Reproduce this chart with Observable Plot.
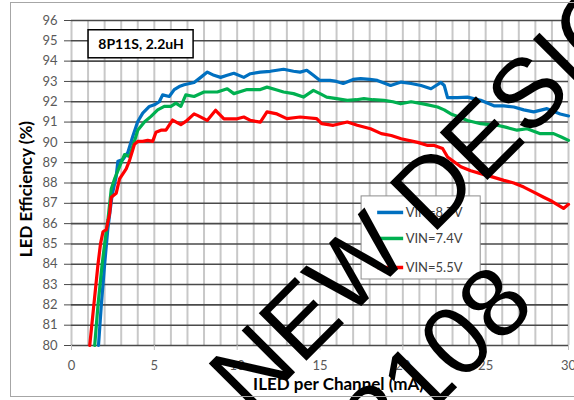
<!DOCTYPE html>
<html><head><meta charset="utf-8">
<script src="https://cdn.jsdelivr.net/npm/d3@7"></script>
<script src="https://cdn.jsdelivr.net/npm/@observablehq/plot@0.6"></script>
<style>
html,body{margin:0;padding:0;background:#fff;}
#wrap{position:relative;width:574px;height:400px;overflow:hidden;}
#wrap svg{position:absolute;left:0;top:0;}
#border{position:absolute;left:10px;top:2px;width:600px;height:395px;border:1px solid #a6a6a6;box-sizing:border-box;pointer-events:none}
</style></head><body><div id="wrap"><div id="border"></div></div>
<script>
// ---- data ----
const xTicks = [0, 5, 10, 15, 20, 25, 30];
const xGrid = d3.range(0, 31, 1);
const yTicks = d3.range(80, 97, 1);

const vin87 = [[1.63,80],[1.8,82],[2.0,84],[2.2,85.8],[2.45,87.4],[2.7,88.33],[2.8,89.07],[3.1,89.15],[3.4,89.5],[3.7,90.3],[4.0,91.03],[4.3,91.44],[4.7,91.77],[5.0,91.85],[5.3,92.0],[5.5,92.34],[5.9,92.26],[6.2,92.6],[6.5,92.75],[6.8,92.84],[7.4,92.95],[7.8,93.2],[8.2,93.46],[8.6,93.3],[9.0,93.2],[9.4,93.3],[9.8,93.4],[10.4,93.2],[10.8,93.38],[11.4,93.46],[12.0,93.5],[12.8,93.6],[13.4,93.5],[13.8,93.46],[14.2,93.55],[14.6,93.3],[15.0,93.05],[15.6,93.05],[16.0,93.0],[16.4,92.9],[17.0,93.1],[17.45,93.14],[18.0,93.1],[18.46,93.05],[19.26,92.8],[19.9,92.97],[20.5,92.9],[21.1,92.8],[21.7,92.64],[22.3,92.95],[22.5,92.8],[22.7,92.2],[23.3,92.2],[23.9,92.23],[24.7,92.07],[25.5,91.8],[26.1,91.8],[26.7,91.74],[27.3,91.6],[27.9,91.5],[28.7,91.66],[29.5,91.4],[30,91.3]];
const vin74 = [[1.4,80],[1.6,82],[1.85,84],[2.0,85],[2.2,86.2],[2.4,87.7],[2.6,88.2],[3.0,89.0],[3.2,89.4],[3.5,89.3],[3.8,90.05],[4.0,90.6],[4.4,91.0],[4.8,91.28],[5.2,91.6],[5.6,91.77],[6.0,91.77],[6.3,91.93],[6.6,91.77],[6.9,92.34],[7.4,92.26],[8.0,92.48],[8.8,92.48],[9.4,92.64],[9.8,92.4],[10.6,92.6],[11.4,92.6],[11.8,92.72],[12.3,92.6],[12.8,92.48],[13.4,92.4],[14.0,92.23],[14.6,92.56],[15.0,92.4],[15.4,92.23],[16.0,92.15],[16.65,92.07],[17.2,92.1],[17.65,92.15],[18.2,92.1],[18.86,92.07],[19.4,92.0],[19.87,91.9],[20.5,92.0],[21.3,91.88],[22.1,91.74],[22.5,91.6],[22.9,91.4],[23.4,91.25],[23.9,91.08],[24.7,90.92],[25.7,90.84],[26.2,90.75],[26.9,90.6],[27.5,90.67],[28.3,90.43],[29.1,90.43],[29.6,90.25],[30,90.1]];
const vin55 = [[1.1,80],[1.35,82],[1.6,84],[1.75,85.0],[1.9,85.6],[2.1,85.7],[2.3,86.5],[2.4,87.3],[2.7,87.5],[2.9,88.2],[3.3,88.7],[3.5,89.1],[3.8,89.9],[4.0,90.05],[4.3,90.05],[4.6,90.1],[4.9,90.05],[5.1,90.5],[5.4,90.6],[5.7,90.6],[6.1,91.1],[6.6,90.87],[6.9,91.03],[7.4,91.4],[7.6,91.33],[8.19,91.08],[8.7,91.58],[9.2,91.16],[10.0,91.16],[10.4,91.25],[10.8,91.08],[11.4,91.0],[11.8,91.5],[12.4,91.4],[13.0,91.17],[13.8,91.25],[14.8,91.17],[15.1,90.92],[15.8,90.84],[16.65,91.0],[17.25,90.84],[18.05,90.67],[18.7,90.43],[19.3,90.34],[19.9,90.18],[20.9,90.0],[21.5,89.85],[21.9,89.85],[22.4,89.7],[22.7,89.28],[23.5,88.8],[24.1,88.6],[24.7,88.46],[25.4,88.3],[26.1,88.13],[26.7,88.0],[27.3,87.8],[27.9,87.55],[28.5,87.3],[29.0,87.1],[29.4,86.9],[29.7,86.75],[30,86.95]];

const seriesNames = ["VIN=8.7V", "VIN=7.4V", "VIN=5.5V"];
const seriesColors = ["#0070C0", "#00B050", "#FF0000"];
const noteText = "8P11S, 2.2uH";
const yTitle = "LED Efficiency (%)";
const xTitle = "ILED per Channel (mA)";
const watermark = ["NEW DESIGN", "2108"];

// ---- legend rows built from the arrays ----
const legendRows = seriesNames.map((name, i) => ({name, color: seriesColors[i], y: [86.55, 85.27, 83.84][i]}));

const chart = Plot.plot({
  width: 574, height: 400,
  marginLeft: 71, marginRight: 6, marginTop: 20, marginBottom: 55,
  style: {background: "transparent", fontFamily: "Lato, sans-serif", fontSize: "13px", color: "#595959", overflow: "visible"},
  x: {domain: [0, 30]},
  y: {domain: [80, 96]},
  marks: [
    Plot.ruleX(xGrid, {stroke: "#c8c8c8", strokeWidth: 2}),
    Plot.ruleY(yTicks, {stroke: "#4a4a4a", strokeWidth: 1.6}),
    Plot.axisY(yTicks, {tickSize: 7, tickPadding: 7, label: null, stroke: "#4a4a4a", fill: "#595959", fontSize: 13}),
    Plot.axisX(xTicks, {tickSize: 5, tickPadding: 10, label: null, stroke: "#bfbfbf", fill: "#595959", fontSize: 13}),
    Plot.line(vin87, {x: d => d[0], y: d => d[1], stroke: seriesColors[0], strokeWidth: 3.2}),
    Plot.line(vin74, {x: d => d[0], y: d => d[1], stroke: seriesColors[1], strokeWidth: 3.2}),
    Plot.line(vin55, {x: d => d[0], y: d => d[1], stroke: seriesColors[2], strokeWidth: 3.2}),
    // annotation box
    Plot.rect([noteText], {x1: 1.03, x2: 7.37, y1: 94.14, y2: 95.52, fill: "white", stroke: "black", strokeWidth: 1.5}),
    Plot.text([noteText], {x: 4.2, y: 94.83, fontWeight: "bold", fontSize: 14, fill: "black"}),
    // legend
    Plot.rect([0], {x1: 17.51, x2: 24.7, y1: 83.25, y2: 87.34, fill: "white", stroke: "#8c8c8c", strokeWidth: 1}),
    Plot.ruleY(legendRows, {y: "y", x1: 18.48, x2: 20.05, stroke: "color", strokeWidth: 3.5}),
    Plot.text(legendRows, {x: 20.17, y: "y", text: "name", textAnchor: "start", fontSize: 13, fill: "#404040"}),
    // axis titles
    Plot.text([yTitle], {x: -2.7, y: 87.7, rotate: -90, fontWeight: "bold", fontSize: 17, fill: "black"}),
    Plot.text([xTitle], {x: 16.12, y: 78.08, fontWeight: "bold", fontSize: 17, fill: "black"}),
    // watermark
    Plot.text([watermark[0]], {x: 9.48, y: 77.59, rotate: -45, textAnchor: "start", fontSize: 98, fontFamily: "Liberation Sans", fill: "black"}),
    Plot.text([watermark[1]], {x: 17.49, y: 75.4, rotate: -45, textAnchor: "start", fontSize: 98, fontFamily: "Liberation Sans", fill: "black"})
  ]
});
document.getElementById("wrap").prepend(chart);
</script>
</body></html>
